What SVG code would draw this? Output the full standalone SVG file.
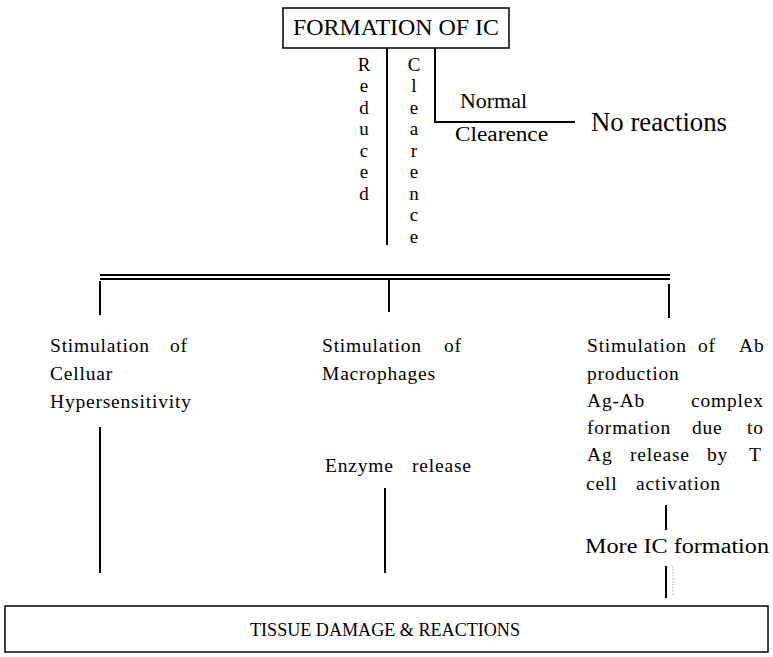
<svg xmlns="http://www.w3.org/2000/svg" width="773" height="657" viewBox="0 0 773 657" font-family="'Liberation Serif', 'Times New Roman', Times, serif">
<style>
.ln{stroke:#000;stroke-width:2;fill:none}
.bx{stroke:#000;stroke-width:1.5;fill:#fff}
text{font-family:"Liberation Serif","Times New Roman",Times,serif;fill:#000}
.s{font-size:19.5px;letter-spacing:0.8px}
.v{font-size:19px;text-anchor:middle}
</style>
<rect width="773" height="657" fill="#fff"/>
<g id="connectors">
<line class="ln" x1="387" y1="47" x2="387" y2="245"/>
<polyline class="ln" points="435,47 435,122 575,122"/>
<line class="ln" x1="100" y1="275" x2="670" y2="275"/>
<line class="ln" x1="100" y1="279" x2="670" y2="279"/>
<line class="ln" x1="100" y1="281" x2="100" y2="315"/>
<line class="ln" x1="389" y1="279" x2="389" y2="312"/>
<line class="ln" x1="669" y1="284" x2="669" y2="318"/>
<line class="ln" x1="100" y1="427" x2="100" y2="573"/>
<line class="ln" x1="385" y1="488" x2="385" y2="573"/>
<line class="ln" x1="666" y1="505" x2="666" y2="530"/>
<line class="ln" x1="666" y1="566" x2="666" y2="598"/>
<line x1="673" y1="566" x2="673" y2="596" stroke="#999" stroke-width="0.8" stroke-dasharray="1.5,1.5"/>
</g>
<g id="formation">
<rect class="bx" x="283" y="8" width="226" height="40"/>
<text x="396" y="35" font-size="24" text-anchor="middle" textLength="206" lengthAdjust="spacingAndGlyphs">FORMATION OF IC</text>
</g>
<g id="reduced">
<text class="v" x="364" y="71">R</text>
<text class="v" x="364" y="92">e</text>
<text class="v" x="364" y="114">d</text>
<text class="v" x="364" y="135">u</text>
<text class="v" x="364" y="157">c</text>
<text class="v" x="364" y="178">e</text>
<text class="v" x="364" y="200">d</text>
</g>
<g id="clearence-v">
<text class="v" x="414" y="71">C</text>
<text class="v" x="414" y="92">l</text>
<text class="v" x="414" y="114">e</text>
<text class="v" x="414" y="135">a</text>
<text class="v" x="414" y="157">r</text>
<text class="v" x="414" y="178">e</text>
<text class="v" x="414" y="200">n</text>
<text class="v" x="414" y="221">c</text>
<text class="v" x="414" y="243">e</text>
</g>
<g id="normal">
<text x="460" y="108" font-size="20" textLength="67" lengthAdjust="spacingAndGlyphs">Normal</text>
<text x="455" y="141" font-size="20" textLength="93" lengthAdjust="spacingAndGlyphs">Clearence</text>
</g>
<g id="no-reactions">
<text x="591" y="131" font-size="27" textLength="136" lengthAdjust="spacingAndGlyphs">No reactions</text>
</g>
<g id="cellular">
<text class="s" y="352"><tspan x="50">Stimulation</tspan><tspan x="170">of</tspan></text>
<text class="s" x="50" y="380">Celluar</text>
<text class="s" x="50" y="408">Hypersensitivity</text>
</g>
<g id="macrophages">
<text class="s" y="352"><tspan x="322">Stimulation</tspan><tspan x="444">of</tspan></text>
<text class="s" x="322" y="380">Macrophages</text>
</g>
<g id="enzyme">
<text class="s" y="472"><tspan x="325">Enzyme</tspan><tspan x="412">release</tspan></text>
</g>
<g id="antibody">
<text class="s" y="352"><tspan x="587">Stimulation</tspan><tspan x="698">of</tspan><tspan x="739">Ab</tspan></text>
<text class="s" x="587" y="380">production</text>
<text class="s" y="407"><tspan x="587">Ag-Ab</tspan><tspan x="691">complex</tspan></text>
<text class="s" y="434"><tspan x="587">formation</tspan><tspan x="692">due</tspan><tspan x="747">to</tspan></text>
<text class="s" y="461"><tspan x="587">Ag</tspan><tspan x="630">release</tspan><tspan x="707">by</tspan><tspan x="749">T</tspan></text>
<text class="s" y="490"><tspan x="586">cell</tspan><tspan x="636">activation</tspan></text>
</g>
<g id="more-ic">
<text x="585" y="553" font-size="20" fill="#222" textLength="184" lengthAdjust="spacingAndGlyphs">More IC formation</text>
</g>
<g id="tissue-damage">
<rect class="bx" x="5" y="606" width="763" height="46" stroke-width="2"/>
<text x="385" y="636" font-size="18" fill="#222" text-anchor="middle" textLength="270" lengthAdjust="spacingAndGlyphs">TISSUE  DAMAGE &amp; REACTIONS</text>
</g>
</svg>
